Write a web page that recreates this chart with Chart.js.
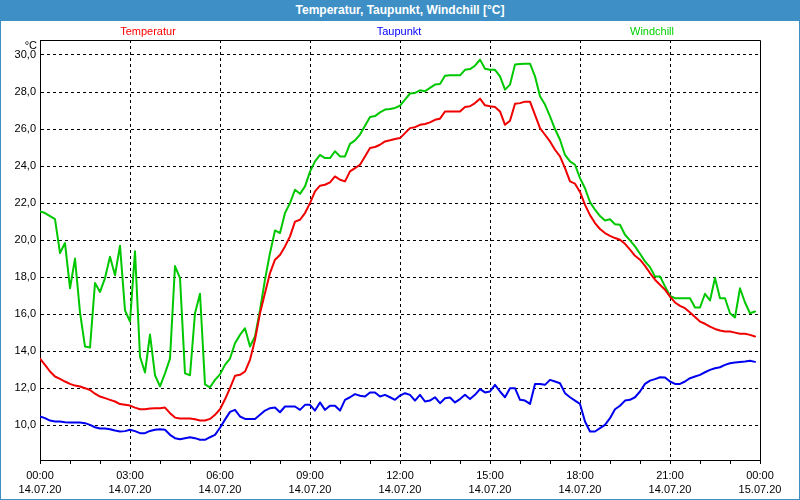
<!DOCTYPE html>
<html>
<head>
<meta charset="utf-8">
<script src="https://cdn.jsdelivr.net/npm/chart.js@4/dist/chart.umd.min.js"></script>
<style>
  html, body { margin: 0; padding: 0; background: #fff; }
  #wrap { position: relative; width: 800px; height: 500px; overflow: hidden; background: #fff; }
  #c { position: absolute; left: 0; top: 0; }
  #titlebar { position: absolute; left: 0; top: 0; width: 800px; height: 21px; background: #3d8fc6;
    color: #fff; font: bold 12px "Liberation Sans", Arial, sans-serif; text-align: center; line-height: 21px; }
  #frame { position: absolute; left: 0; top: 0; width: 798px; height: 499px; border: 1px solid #3d8fc6; border-top: none; pointer-events: none; }
</style>
</head>
<body>
<div id="wrap">
  <canvas id="c" width="800" height="500"></canvas>
  <div id="frame"></div>
  <div id="titlebar">Temperatur, Taupunkt, Windchill [°C]</div>
</div>
<script>
// ---- data (10-minute readings, 14.07.20 00:00 .. 23:50) ----
const seriesNames = ["Temperatur", "Taupunkt", "Windchill"];
const startDate = "14.07.20";
const endDate = "15.07.20";
const unitLabel = "°C";
const yTickValues = [10, 12, 14, 16, 18, 20, 22, 24, 26, 28, 30];

const temperatur = [
  13.59,13.26,12.9,12.63,12.5,12.36, 12.23,12.14,12.09,12.0,11.9,11.7,
  11.55,11.46,11.37,11.28,11.14,11.1, 11.06,10.95,10.86,10.86,10.9,10.92,
  10.92,10.95,10.65,10.41,10.36,10.36, 10.36,10.32,10.25,10.25,10.34,10.56,
  10.86,11.4,12.0,12.67,12.72,12.9, 13.53,14.61,16.05,17.14,18.22,18.94,
  19.2,19.66,20.2,21.0,21.1,21.46, 22.0,22.63,22.94,22.99,23.12,23.44,
  23.26,23.17,23.71,23.89,24.07,24.52, 24.97,25.03,25.15,25.33,25.39,25.46,
  25.51,25.78,26.05,26.1,26.23,26.27, 26.36,26.5,26.56,26.95,26.95,26.95,
  26.95,27.19,27.23,27.4,27.64,27.28, 27.23,27.19,26.95,26.23,26.45,27.37,
  27.4,27.48,27.48,26.77,26.05,25.69, 25.33,24.88,24.52,23.89,23.17,23.05,
  22.6,21.9,21.35,20.92,20.6,20.38, 20.23,20.11,20.02,19.8,19.48,19.15,
  18.94,18.61,18.22,17.86,17.59,17.32, 16.95,16.63,16.45,16.32,16.09,15.84,
  15.6,15.48,15.33,15.2,15.12,15.06, 15.06,15.0,14.94,14.94,14.88,14.79
];
const taupunkt = [
  10.47,10.38,10.25,10.2,10.2,10.16, 10.14,10.14,10.14,10.11,10.02,9.89,
  9.82,9.82,9.78,9.71,9.66,9.68, 9.75,9.68,9.57,9.57,9.69,9.75,
  9.78,9.75,9.48,9.3,9.24,9.3, 9.35,9.3,9.21,9.21,9.35,9.48,
  9.86,10.3,10.72,10.83,10.47,10.34, 10.34,10.34,10.56,10.79,10.92,10.96,
  10.7,11.01,11.01,11.01,10.83,11.1, 11.1,10.79,11.23,10.83,11.05,11.05,
  10.79,11.37,11.51,11.68,11.59,11.55, 11.77,11.77,11.55,11.64,11.51,11.37,
  11.6,11.73,11.64,11.33,11.64,11.28, 11.33,11.51,11.19,11.46,11.5,11.23,
  11.41,11.64,11.41,11.64,11.95,11.77, 11.82,12.18,11.82,11.51,12.0,12.0,
  11.37,11.33,11.15,12.23,12.23,12.18, 12.45,12.36,12.27,11.73,11.51,11.33,
  11.15,10.2,9.66,9.66,9.84,10.02, 10.38,10.86,11.05,11.33,11.37,11.51,
  11.82,12.23,12.41,12.49,12.59,12.58, 12.36,12.23,12.23,12.36,12.54,12.63,
  12.72,12.86,12.99,13.08,13.13,13.26, 13.35,13.39,13.42,13.44,13.48,13.42
];
const windchill = [
  21.55,21.46,21.3,21.13,19.3,19.84, 17.4,19.0,16.1,14.25,14.2,17.68,
  17.2,17.95,19.1,18.1,19.7,16.2, 15.6,19.4,13.7,12.85,14.9,12.7,
  12.1,12.8,13.6,18.6,17.95,12.8, 12.7,16.05,17.1,12.2,12.05,12.45,
  12.75,13.26,13.6,14.43,14.88,15.24, 14.25,14.8,16.23,17.86,19.3,20.52,
  20.38,21.46,22.0,22.72,22.5,22.9, 23.7,24.25,24.6,24.43,24.43,24.8,
  24.52,24.52,25.2,25.39,25.7,26.18, 26.65,26.7,26.9,27.05,27.08,27.14,
  27.26,27.59,27.92,27.95,28.09,28.04, 28.22,28.4,28.43,28.88,28.9,28.9,
  28.9,29.2,29.24,29.42,29.75,29.26, 29.2,29.2,28.85,28.13,28.4,29.48,
  29.51,29.53,29.53,28.85,27.77,27.32, 26.68,26.0,25.42,24.6,24.25,24.07,
  23.35,22.8,22.05,21.64,21.3,21.06, 21.13,20.86,20.83,20.29,19.98,19.66,
  19.26,18.85,18.54,18.04,18.04,17.5, 16.99,16.86,16.86,16.86,16.86,16.36,
  16.36,17.1,16.74,17.95,16.86,16.86, 16.05,15.82,17.4,16.63,16.05,16.14
];
// minutes since 14.07.20 00:00 for each reading
const minutes = temperatur.map((_, i) => i * 10);

const toPoints = arr => arr.map((v, i) => ({ x: minutes[i], y: v }));
const FONT = "'Liberation Sans', Arial, sans-serif";

const boxPlugin = {
  id: 'box',
  afterDraw(chart) {
    const { ctx, chartArea: a } = chart;
    ctx.save();
    ctx.strokeStyle = '#000';
    ctx.lineWidth = 1;
    ctx.beginPath();
    ctx.moveTo(Math.round(a.left) + 0.5, Math.round(a.top) + 0.5);
    ctx.lineTo(Math.round(a.right) + 0.5, Math.round(a.top) + 0.5);
    ctx.lineTo(Math.round(a.right) + 0.5, Math.round(a.bottom) + 0.5);
    ctx.stroke();
    // unit label
    ctx.fillStyle = '#000';
    ctx.font = '11px ' + FONT;
    ctx.textAlign = 'right';
    ctx.textBaseline = 'middle';
    ctx.fillText(unitLabel, 37, 46);
    // legend texts
    const centers = [148, 399, 652];
    ctx.textAlign = 'center';
    chart.data.datasets.forEach((ds, i) => {
      ctx.fillStyle = ds.legendColor;
      ctx.fillText(ds.label, centers[i], 32);
    });
    ctx.restore();
  }
};

new Chart(document.getElementById('c'), {
  type: 'line',
  data: {
    datasets: [
      { label: seriesNames[0], data: toPoints(temperatur), borderColor: '#f00000', legendColor: '#ff0000' },
      { label: seriesNames[1], data: toPoints(taupunkt), borderColor: '#0000f0', legendColor: '#0000ff' },
      { label: seriesNames[2], data: toPoints(windchill), borderColor: '#00c800', legendColor: '#00d000' }
    ]
  },
  options: {
    responsive: false,
    animation: false,
    events: [],
    layout: { padding: { top: 40, right: 40, left: 0, bottom: 0 } },
    elements: {
      point: { radius: 0 },
      line: { borderWidth: 2, tension: 0, borderJoinStyle: 'round', borderCapStyle: 'round' }
    },
    plugins: { legend: { display: false }, tooltip: { enabled: false }, title: { display: false } },
    scales: {
      x: {
        type: 'linear',
        min: 0, max: 1440,
        afterFit: s => { s.height = 40; },
        ticks: {
          stepSize: 60, autoSkip: false, maxRotation: 0, padding: 4,
          color: '#000', font: { size: 11, family: FONT, lineHeight: 1.36 },
          callback: v => {
            if (v % 180 !== 0) return '';
            const h = (v / 60) % 24;
            const lbl = String(h).padStart(2, '0') + ':00';
            return [lbl, v >= 1440 ? endDate : startDate];
          }
        },
        grid: {
          drawOnChartArea: true, drawTicks: true, tickLength: 4, lineWidth: 1,
          color: c => (c.tick && c.tick.value % 180 === 0 && c.tick.value > 0 && c.tick.value < 1440) ? '#000' : 'rgba(0,0,0,0)',
          tickColor: '#000', tickBorderDash: []
        },
        border: { display: true, color: '#000', width: 1, dash: [3, 3] }
      },
      y: {
        type: 'linear',
        min: 8.12, max: 30.81,
        afterFit: s => { s.width = 40; },
        afterBuildTicks: s => { s.ticks = yTickValues.map(v => ({ value: v })); },
        ticks: {
          padding: 4, color: '#000', font: { size: 11, family: FONT },
          callback: v => Number(v).toFixed(1).replace('.', ',')
        },
        grid: { drawTicks: false, color: '#000', lineWidth: 1 },
        border: { display: true, color: '#000', width: 1, dash: [3, 3] }
      }
    }
  },
  plugins: [boxPlugin]
});
</script>
</body>
</html>
